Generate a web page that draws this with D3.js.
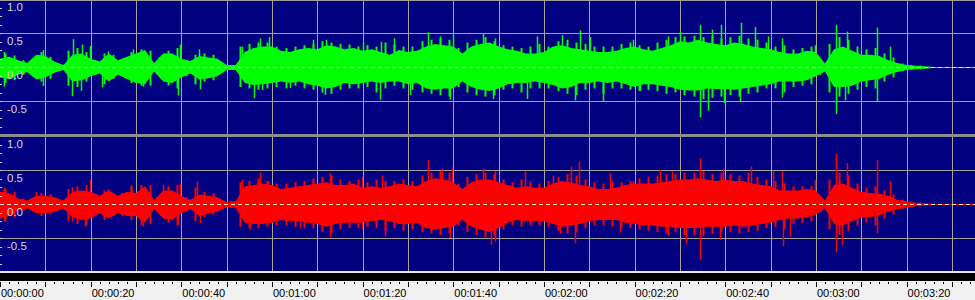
<!DOCTYPE html>
<html>
<head>
<meta charset="utf-8">
<script src="https://cdn.jsdelivr.net/npm/d3@7"></script>
<style>
  html, body { margin: 0; padding: 0; background: #f0f0f0; }
  svg { display: block; }
</style>
</head>
<body>
<svg></svg>
<script>
// envelope of each channel, one value every 2 seconds (0 .. 216 s)
const sampleStep = 2;

const greenTop = [
  0.12, 0.15, 0.10, 0.06, 0.18, 0.16, 0.08, 0.03, 0.18, 0.20,
  0.12, 0.08, 0.20, 0.10, 0.15, 0.20, 0.25, 0.06, 0.20, 0.20,
  0.12, 0.09, 0.16, 0.14, 0.12, 0.03, 0.03, 0.22, 0.28, 0.30,
  0.30, 0.24, 0.22, 0.26, 0.28, 0.26, 0.32, 0.30, 0.26, 0.28,
  0.24, 0.26, 0.22, 0.18, 0.25, 0.22, 0.24, 0.30, 0.34, 0.32,
  0.30, 0.20, 0.30, 0.34, 0.36, 0.30, 0.26, 0.24, 0.20, 0.20,
  0.22, 0.30, 0.32, 0.28, 0.26, 0.24, 0.22, 0.22, 0.24, 0.28,
  0.30, 0.26, 0.24, 0.28, 0.32, 0.38, 0.36, 0.40, 0.36, 0.34,
  0.32, 0.36, 0.34, 0.30, 0.28, 0.26, 0.22, 0.20, 0.20, 0.24,
  0.22, 0.05, 0.26, 0.30, 0.24, 0.18, 0.18, 0.16, 0.10, 0.06,
  0.03, 0.02, 0.01, 0, 0, 0, 0, 0, 0
];
const greenBottom = [
  -0.14, -0.16, -0.10, -0.06, -0.17, -0.14, -0.07, -0.03, -0.20, -0.18,
  -0.12, -0.08, -0.20, -0.10, -0.16, -0.22, -0.24, -0.05, -0.20, -0.22,
  -0.14, -0.08, -0.17, -0.15, -0.12, -0.03, -0.03, -0.22, -0.25, -0.24,
  -0.22, -0.20, -0.22, -0.20, -0.24, -0.26, -0.30, -0.28, -0.22, -0.24,
  -0.22, -0.20, -0.22, -0.20, -0.20, -0.24, -0.22, -0.30, -0.32, -0.30,
  -0.30, -0.20, -0.28, -0.32, -0.34, -0.30, -0.24, -0.22, -0.22, -0.20,
  -0.22, -0.25, -0.30, -0.28, -0.22, -0.22, -0.20, -0.22, -0.20, -0.24,
  -0.28, -0.24, -0.24, -0.26, -0.28, -0.32, -0.33, -0.33, -0.30, -0.31,
  -0.31, -0.32, -0.30, -0.28, -0.26, -0.24, -0.20, -0.20, -0.20, -0.18,
  -0.12, -0.05, -0.28, -0.28, -0.26, -0.20, -0.18, -0.16, -0.10, -0.06,
  -0.03, -0.02, -0.01, 0, 0, 0, 0, 0, 0
];
const redTop = [
  0.18, 0.16, 0.08, 0.05, 0.12, 0.12, 0.10, 0.05, 0.18, 0.20,
  0.18, 0.12, 0.20, 0.12, 0.18, 0.16, 0.26, 0.06, 0.20, 0.20,
  0.12, 0.06, 0.14, 0.12, 0.10, 0.03, 0.04, 0.26, 0.28, 0.30,
  0.28, 0.22, 0.24, 0.26, 0.28, 0.30, 0.32, 0.28, 0.28, 0.30,
  0.24, 0.26, 0.24, 0.26, 0.30, 0.28, 0.26, 0.34, 0.38, 0.36,
  0.32, 0.22, 0.32, 0.36, 0.36, 0.32, 0.28, 0.24, 0.26, 0.24,
  0.24, 0.30, 0.34, 0.32, 0.28, 0.26, 0.22, 0.22, 0.24, 0.28,
  0.30, 0.30, 0.30, 0.32, 0.34, 0.36, 0.36, 0.38, 0.36, 0.34,
  0.36, 0.34, 0.34, 0.30, 0.28, 0.26, 0.20, 0.20, 0.20, 0.22,
  0.20, 0.05, 0.28, 0.30, 0.24, 0.18, 0.16, 0.15, 0.12, 0.06,
  0.04, 0.02, 0.01, 0, 0, 0, 0, 0, 0
];
const redBottom = [
  -0.20, -0.16, -0.08, -0.05, -0.12, -0.12, -0.10, -0.05, -0.18, -0.22,
  -0.20, -0.12, -0.20, -0.12, -0.16, -0.16, -0.26, -0.06, -0.20, -0.22,
  -0.12, -0.06, -0.16, -0.12, -0.10, -0.03, -0.04, -0.26, -0.28, -0.28,
  -0.26, -0.22, -0.24, -0.24, -0.26, -0.28, -0.32, -0.28, -0.26, -0.26,
  -0.26, -0.24, -0.22, -0.24, -0.28, -0.28, -0.26, -0.34, -0.36, -0.34,
  -0.32, -0.22, -0.32, -0.36, -0.40, -0.34, -0.26, -0.22, -0.24, -0.24,
  -0.24, -0.28, -0.32, -0.30, -0.28, -0.24, -0.22, -0.22, -0.22, -0.26,
  -0.28, -0.30, -0.30, -0.32, -0.32, -0.34, -0.34, -0.34, -0.32, -0.32,
  -0.32, -0.30, -0.32, -0.30, -0.28, -0.26, -0.22, -0.20, -0.20, -0.18,
  -0.14, -0.05, -0.28, -0.30, -0.24, -0.18, -0.18, -0.15, -0.10, -0.06,
  -0.04, -0.02, -0.01, 0, 0, 0, 0, 0, 0
];

// peak of each odd second (1, 3, 5 .. 215 s)
const greenPeakTop = [
  0.20, 0.17, 0.10, 0.08, 0.22, 0.15, 0.04, 0.24, 0.28, 0.22,
  0.10, 0.20, 0.18, 0.12, 0.22, 0.26, 0.24, 0.14, 0.24, 0.28,
  0.10, 0.18, 0.20, 0.18, 0.05, 0.03, 0.30, 0.34, 0.36, 0.36,
  0.30, 0.28, 0.30, 0.32, 0.34, 0.38, 0.36, 0.34, 0.33, 0.30,
  0.32, 0.30, 0.36, 0.33, 0.30, 0.30, 0.38, 0.40, 0.42, 0.40,
  0.28, 0.36, 0.40, 0.44, 0.38, 0.32, 0.30, 0.28, 0.30, 0.34,
  0.30, 0.38, 0.40, 0.36, 0.34, 0.30, 0.30, 0.30, 0.34, 0.36,
  0.32, 0.30, 0.36, 0.40, 0.44, 0.45, 0.46, 0.44, 0.46, 0.42,
  0.44, 0.46, 0.42, 0.40, 0.36, 0.30, 0.32, 0.26, 0.28, 0.30,
  0.12, 0.34, 0.44, 0.40, 0.30, 0.26, 0.28, 0.20, 0.14, 0.05,
  0.03, 0.02, 0, 0, 0, 0, 0, 0
];
const greenPeakBottom = [
  -0.22, -0.18, -0.10, -0.07, -0.20, -0.16, -0.04, -0.26, -0.28, -0.20,
  -0.10, -0.24, -0.16, -0.12, -0.22, -0.26, -0.26, -0.10, -0.26, -0.30,
  -0.12, -0.24, -0.20, -0.18, -0.05, -0.03, -0.28, -0.30, -0.32, -0.30,
  -0.28, -0.30, -0.26, -0.30, -0.32, -0.36, -0.38, -0.32, -0.30, -0.30,
  -0.28, -0.36, -0.30, -0.26, -0.30, -0.32, -0.36, -0.38, -0.40, -0.42,
  -0.28, -0.36, -0.40, -0.42, -0.40, -0.32, -0.30, -0.36, -0.30, -0.30,
  -0.30, -0.34, -0.38, -0.40, -0.32, -0.30, -0.38, -0.30, -0.30, -0.32,
  -0.34, -0.32, -0.34, -0.38, -0.36, -0.40, -0.42, -0.46, -0.44, -0.42,
  -0.40, -0.42, -0.38, -0.36, -0.30, -0.30, -0.36, -0.28, -0.26, -0.24,
  -0.10, -0.36, -0.42, -0.38, -0.32, -0.28, -0.30, -0.20, -0.14, -0.05,
  -0.03, -0.02, 0, 0, 0, 0, 0, 0
];
const redPeakTop = [
  0.22, 0.18, 0.08, 0.06, 0.16, 0.14, 0.05, 0.22, 0.26, 0.28,
  0.14, 0.20, 0.16, 0.16, 0.26, 0.28, 0.28, 0.10, 0.26, 0.28,
  0.10, 0.24, 0.18, 0.16, 0.05, 0.04, 0.32, 0.34, 0.38, 0.34,
  0.30, 0.30, 0.32, 0.34, 0.36, 0.40, 0.42, 0.36, 0.34, 0.36,
  0.32, 0.36, 0.34, 0.34, 0.36, 0.34, 0.42, 0.46, 0.48, 0.46,
  0.30, 0.40, 0.44, 0.46, 0.44, 0.36, 0.32, 0.36, 0.32, 0.30,
  0.34, 0.40, 0.44, 0.42, 0.36, 0.32, 0.30, 0.34, 0.32, 0.34,
  0.38, 0.40, 0.42, 0.44, 0.44, 0.46, 0.46, 0.48, 0.44, 0.46,
  0.44, 0.42, 0.46, 0.40, 0.36, 0.34, 0.30, 0.26, 0.26, 0.26,
  0.10, 0.36, 0.46, 0.42, 0.30, 0.24, 0.26, 0.20, 0.14, 0.06,
  0.03, 0.02, 0, 0, 0, 0, 0, 0
];
const redPeakBottom = [
  -0.24, -0.18, -0.08, -0.06, -0.16, -0.14, -0.05, -0.24, -0.28, -0.30,
  -0.14, -0.22, -0.16, -0.16, -0.22, -0.30, -0.28, -0.10, -0.26, -0.30,
  -0.10, -0.24, -0.18, -0.14, -0.05, -0.04, -0.32, -0.34, -0.34, -0.32,
  -0.30, -0.30, -0.32, -0.34, -0.34, -0.40, -0.42, -0.36, -0.34, -0.34,
  -0.32, -0.34, -0.38, -0.34, -0.38, -0.36, -0.40, -0.42, -0.44, -0.42,
  -0.30, -0.40, -0.44, -0.48, -0.46, -0.36, -0.30, -0.32, -0.30, -0.30,
  -0.32, -0.38, -0.42, -0.40, -0.34, -0.30, -0.30, -0.32, -0.34, -0.34,
  -0.36, -0.38, -0.40, -0.42, -0.40, -0.44, -0.44, -0.46, -0.42, -0.40,
  -0.40, -0.42, -0.40, -0.38, -0.34, -0.32, -0.36, -0.28, -0.26, -0.24,
  -0.10, -0.36, -0.44, -0.38, -0.30, -0.26, -0.30, -0.20, -0.14, -0.06,
  -0.03, -0.02, 0, 0, 0, 0, 0, 0
];

// isolated tall peaks [seconds, amplitude]
const greenSpikes = [
  [0.9, 0.22], [9.5, 0.25], [16.1, 0.41], [18.1, 0.33], [19.9, 0.31], [23.9, 0.23],
  [29.3, 0.26], [39.7, 0.33], [43.9, 0.26], [53.4, 0.30], [57.4, 0.42], [59.3, 0.44],
  [69.0, 0.40], [72.0, 0.40], [80.0, 0.37], [84.0, 0.37], [87.0, 0.42], [94.4, 0.51],
  [97.0, 0.45], [100.0, 0.48], [106.6, 0.49], [109.2, 0.42], [118.5, 0.45], [124.0, 0.47],
  [128.0, 0.54], [130.2, 0.44], [139.6, 0.40], [147.4, 0.45], [150.0, 0.52], [154.4, 0.62],
  [157.0, 0.55], [159.0, 0.62], [163.5, 0.65], [166.6, 0.59], [169.4, 0.45], [172.5, 0.42],
  [179.8, 0.32], [184.4, 0.62], [186.9, 0.52], [193.5, 0.58], [196.3, 0.30],
  [0.9, -0.29], [9.5, -0.28], [15.9, -0.43], [17.9, -0.35], [22.5, -0.30], [31.5, -0.29],
  [39.3, -0.42], [44.1, -0.33], [56.0, -0.46], [57.8, -0.34], [64.0, -0.31], [71.7, -0.41],
  [83.8, -0.48], [90.5, -0.41], [99.3, -0.48], [108.8, -0.47], [116.3, -0.47], [126.8, -0.49],
  [133.0, -0.50], [141.2, -0.35], [154.4, -0.74], [156.2, -0.64], [159.7, -0.53], [163.2, -0.51],
  [172.5, -0.45], [184.4, -0.69], [186.4, -0.49], [193.5, -0.50]
];
const redSpikes = [
  [0.9, 0.24], [7.9, 0.18], [15.9, 0.25], [19.9, 0.35], [23.8, 0.22], [28.9, 0.28],
  [36.0, 0.28], [39.7, 0.30], [43.5, 0.33], [53.4, 0.36], [57.4, 0.46], [59.1, 0.33],
  [69.0, 0.38], [72.8, 0.45], [79.9, 0.40], [84.3, 0.42], [94.4, 0.65], [97.5, 0.52],
  [99.7, 0.52], [106.6, 0.52], [109.2, 0.48], [115.8, 0.48], [122.0, 0.42], [126.0, 0.55],
  [127.7, 0.62], [134.6, 0.45], [139.6, 0.34], [145.6, 0.50], [148.2, 0.48], [154.4, 0.67],
  [159.5, 0.52], [165.7, 0.55], [170.5, 0.48], [172.5, 0.48], [179.8, 0.35], [184.4, 0.74],
  [186.9, 0.60], [193.5, 0.65], [196.3, 0.34],
  [0.9, -0.26], [15.9, -0.26], [18.8, -0.33], [31.5, -0.33], [39.3, -0.31], [44.1, -0.28],
  [55.2, -0.38], [66.2, -0.36], [72.8, -0.49], [79.9, -0.38], [84.9, -0.48], [99.3, -0.50],
  [108.3, -0.60], [109.2, -0.55], [123.5, -0.44], [126.8, -0.58], [136.8, -0.42], [147.4, -0.47],
  [151.3, -0.58], [154.4, -0.82], [158.8, -0.53], [172.7, -0.62], [174.3, -0.48], [184.4, -0.71],
  [185.7, -0.60], [193.5, -0.43]
];

const yLabels = [1.0, 0.5, 0.0, -0.5];
const labelTimes = [0, 20, 40, 60, 80, 100, 120, 140, 160, 180, 200];
const timeLabels = ["00:00:00", "00:00:20", "00:00:40", "00:01:00", "00:01:20", "00:01:40",
  "00:02:00", "00:02:20", "00:02:40", "00:03:00", "00:03:20"];

const width = 975, height = 300;
const svg = d3.select("svg").attr("width", width).attr("height", height);

const x = d3.scaleLinear().domain([0, 215.1]).range([0, width]);

const panels = [
  { top: 0, bottom: 134, y: d3.scaleLinear().domain([-1, 1]).range([135, -1]),
    color: "#00ff00", hi: greenTop, lo: greenBottom,
    peakHi: greenPeakTop, peakLo: greenPeakBottom, spikes: greenSpikes },
  { top: 137, bottom: 271, y: d3.scaleLinear().domain([-1, 1]).range([272, 136]),
    color: "#ff0000", hi: redTop, lo: redBottom,
    peakHi: redPeakTop, peakLo: redPeakBottom, spikes: redSpikes }
];

// frame pieces
svg.append("rect").attr("x", 0).attr("y", 0).attr("width", width).attr("height", 272).attr("fill", "#000080");
svg.append("rect").attr("x", 0).attr("y", 134).attr("width", width).attr("height", 3).attr("fill", "#8c8c8c");
svg.append("rect").attr("x", 0).attr("y", 271).attr("width", width).attr("height", 2).attr("fill", "#e8e8e8");
svg.append("rect").attr("x", 0).attr("y", 273).attr("width", width).attr("height", 8).attr("fill", "#000000");
svg.append("rect").attr("x", 0).attr("y", 0).attr("width", width).attr("height", 1).attr("fill", "#9c9c9c");

const gridTimes = d3.range(10, 220, 10);

panels.forEach(p => {
  const g = svg.append("g");

  // grid
  g.selectAll(".vgrid")
    .data(gridTimes)
    .join("line")
    .attr("x1", d => Math.round(x(d)) + 0.5)
    .attr("x2", d => Math.round(x(d)) + 0.5)
    .attr("y1", p.top)
    .attr("y2", p.bottom)
    .attr("stroke", "#a4a49c")
    .attr("stroke-width", 1);

  g.selectAll(".hgrid")
    .data([0.5, -0.5])
    .join("line")
    .attr("x1", 0)
    .attr("x2", width)
    .attr("y1", d => Math.round(p.y(d)) + 0.5)
    .attr("y2", d => Math.round(p.y(d)) + 0.5)
    .attr("stroke", "#a4a49c")
    .attr("stroke-width", 1);

  // zero line under the wave
  g.append("line")
    .attr("x1", 0).attr("x2", width)
    .attr("y1", p.y(0) + 0.5).attr("y2", p.y(0) + 0.5)
    .attr("stroke", p.color);

  // body of the wave
  const env = p.hi.map((v, i) => ({ t: i * sampleStep, hi: v, lo: p.lo[i] }));
  const area = d3.area()
    .x(d => x(d.t))
    .y0(d => p.y(d.lo) + 1)
    .y1(d => p.y(d.hi));

  g.append("path")
    .datum(env)
    .attr("d", area)
    .attr("fill", p.color);

  // per-second peaks
  const peaks = p.peakHi.map((v, i) => ({ t: i * sampleStep + 1, hi: v, lo: p.peakLo[i] }));
  g.selectAll(".peak")
    .data(peaks)
    .join("line")
    .attr("x1", d => Math.round(x(d.t)) + 0.5)
    .attr("x2", d => Math.round(x(d.t)) + 0.5)
    .attr("y1", d => p.y(d.lo) + 1)
    .attr("y2", d => p.y(d.hi))
    .attr("stroke", p.color)
    .attr("stroke-width", 2);

  // tall isolated peaks
  g.selectAll(".spike")
    .data(p.spikes)
    .join("line")
    .attr("x1", d => Math.round(x(d[0])) + 0.5)
    .attr("x2", d => Math.round(x(d[0])) + 0.5)
    .attr("y1", p.y(0))
    .attr("y2", d => p.y(d[1]))
    .attr("stroke", p.color)
    .attr("stroke-width", 1.5);

  // dashed centre line
  g.append("line")
    .attr("x1", 0).attr("x2", width)
    .attr("y1", p.y(0) + 0.5).attr("y2", p.y(0) + 0.5)
    .attr("stroke", "#e8e8c8")
    .attr("stroke-dasharray", "4,3");

  // little marks on the left edge
  g.selectAll(".ymark")
    .data(d3.range(-0.875, 1, 0.125))
    .join("line")
    .attr("x1", 0).attr("x2", 2)
    .attr("y1", d => Math.round(p.y(d)) + 0.5)
    .attr("y2", d => Math.round(p.y(d)) + 0.5)
    .attr("stroke", "#d0d0d0");

  g.selectAll(".ylabel")
    .data(yLabels)
    .join("text")
    .attr("x", 7)
    .attr("y", d => p.y(d) + 12)
    .attr("fill", "#d8d8d8")
    .style("font-family", "Liberation Sans, Arial, sans-serif")
    .style("font-size", "11.5px")
    .text(d => d.toFixed(1));
});

// time axis
const axisG = svg.append("g").attr("transform", "translate(0,281)");

axisG.selectAll(".minor")
  .data(d3.range(0, 216, 2))
  .join("line")
  .attr("x1", d => Math.round(x(d)) + 0.5)
  .attr("x2", d => Math.round(x(d)) + 0.5)
  .attr("y1", 1)
  .attr("y2", d => d % 10 === 0 ? 6 : 3)
  .attr("stroke", "#000");

axisG.selectAll(".tlabel")
  .data(labelTimes)
  .join("text")
  .attr("x", d => x(d) + 1)
  .attr("y", 16)
  .attr("fill", "#000")
  .style("font-family", "Liberation Sans, Arial, sans-serif")
  .style("font-size", "11px")
  .text((d, i) => timeLabels[i]);
</script>
</body>
</html>
